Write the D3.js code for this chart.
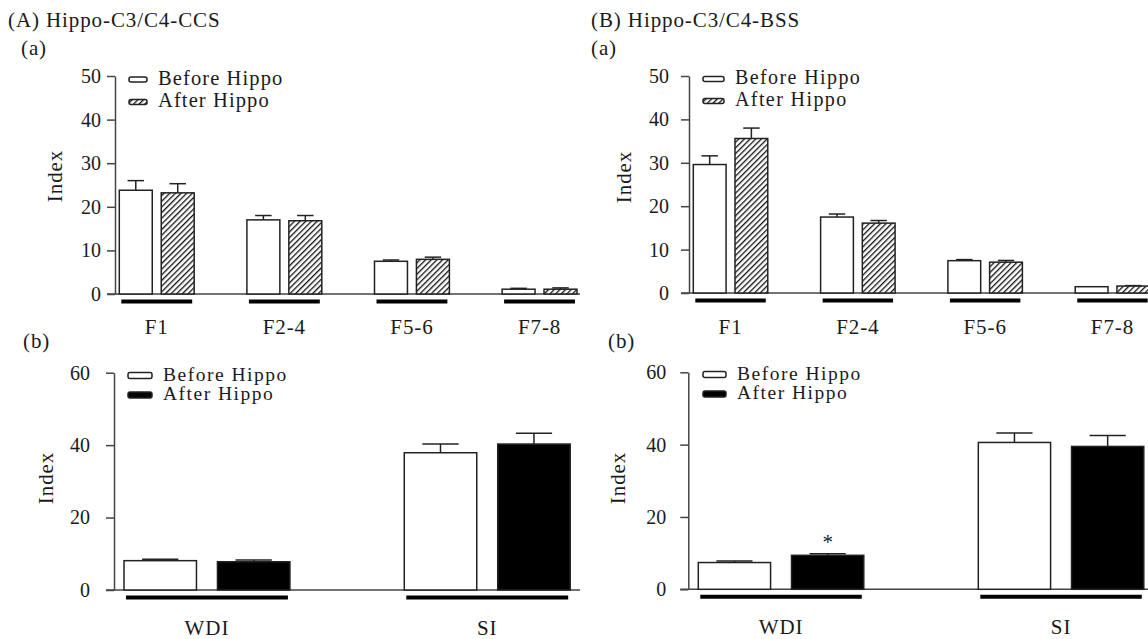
<!DOCTYPE html>
<html>
<head>
<meta charset="utf-8">
<script src="https://cdn.jsdelivr.net/npm/d3@7"></script>
<style>
  body { margin: 0; background: #fff; }
  text { font-family: "Liberation Serif", "Times New Roman", serif; fill: #1a1a1a; }
</style>
</head>
<body>
<div id="chart"></div>
<script>
//data
var fracCats = ["F1", "F2-4", "F5-6", "F7-8"];
var idxCats = ["WDI", "SI"];
var groups = ["before", "after"];
var legendLabels = ["Before Hippo", "After Hippo"];

var fracTicks = [0, 10, 20, 30, 40, 50];
var idxTicks = [0, 20, 40, 60];

//(A) CCS, fractions
var ccsFracBefore = [23.8, 17.0, 7.5, 1.1];
var ccsFracBeforeErr = [2.2, 1.0, 0.3, 0.2];
var ccsFracAfter = [23.2, 16.8, 7.95, 1.1];
var ccsFracAfterErr = [2.1, 1.2, 0.5, 0.3];

//(B) BSS, fractions
var bssFracBefore = [29.6, 17.5, 7.45, 1.45];
var bssFracBeforeErr = [2.0, 0.7, 0.25, 0];
var bssFracAfter = [35.6, 16.1, 7.1, 1.6];
var bssFracAfterErr = [2.4, 0.6, 0.4, 0.1];

//(A) CCS, indices
var ccsIdxBefore = [8.1, 37.9];
var ccsIdxBeforeErr = [0.4, 2.4];
var ccsIdxAfter = [7.8, 40.3];
var ccsIdxAfterErr = [0.5, 3.0];

//(B) BSS, indices
var bssIdxBefore = [7.4, 40.6];
var bssIdxBeforeErr = [0.45, 2.6];
var bssIdxAfter = [9.4, 39.5];
var bssIdxAfterErr = [0.45, 3.0];
var bssIdxStarsAfter = ["*", ""];

var width = 1148, height = 639;
var fontSize = 21, spacing = "0.9px";

var svg = d3.select("#chart")
    .append("svg")
    .attr("width", width)
    .attr("height", height);

//hatch pattern for the "after" bars in the (a) charts
var defs = svg.append("defs");
var pat = defs.append("pattern")
    .attr("id", "hatch")
    .attr("patternUnits", "userSpaceOnUse")
    .attr("width", 4)
    .attr("height", 4)
    .attr("patternTransform", "rotate(45)");
pat.append("rect").attr("width", 4).attr("height", 4).attr("fill", "#fff");
pat.append("line")
    .attr("x1", 0).attr("y1", 0).attr("x2", 0).attr("y2", 4)
    .attr("stroke", "#111").attr("stroke-width", 2.6);

//titles
function label(x, y, txt) {
    return svg.append("text")
        .attr("x", x)
        .attr("y", y)
        .attr("font-size", fontSize)
        .attr("letter-spacing", spacing)
        .text(txt);
}
label(8, 27, "(A) Hippo-C3/C4-CCS");
label(591, 27, "(B) Hippo-C3/C4-BSS");
label(21, 55, "(a)");
label(591, 55, "(a)");
label(23, 348, "(b)");
label(608, 348, "(b)");

var panels = [
    {cats: fracCats, before: ccsFracBefore, beforeErr: ccsFracBeforeErr, after: ccsFracAfter, afterErr: ccsFracAfterErr,
     max: 50, ticks: fracTicks, axisX: 115, yTop: 76, yBase: 294, xRange: [119.3, 577], xEnd: 580,
     pad: 0.413, innerPad: 0.214, tickPad: 6, afterFill: "url(#hatch)", labelPad: 25,
     indexX: 62, indexY: 176, legX: 129, legY: 79.5, legGap: 22.5, legFont: 20.5, legSpacing: "1.1px", swW: 18, swH: 5},
    {cats: fracCats, before: bssFracBefore, beforeErr: bssFracBeforeErr, after: bssFracAfter, afterErr: bssFracAfterErr,
     max: 50, ticks: fracTicks, axisX: 689, yTop: 76, yBase: 293, xRange: [693.3, 1149.7], xEnd: 1148,
     pad: 0.415, innerPad: 0.214, tickPad: 12, afterFill: "url(#hatch)", labelPad: 26,
     indexX: 631, indexY: 177, legX: 703, legY: 79, legGap: 22, legFont: 20, legSpacing: "1.4px", swW: 21, swH: 5},
    {cats: idxCats, before: ccsIdxBefore, beforeErr: ccsIdxBeforeErr, after: ccsIdxAfter, afterErr: ccsIdxAfterErr,
     max: 60, ticks: idxTicks, axisX: 114, yTop: 372.7, yBase: 590, xRange: [124, 570.2], xEnd: 580,
     pad: 0.408, innerPad: 0.2246, tickPad: 16, afterFill: "#000", labelPad: 30,
     indexX: 53, indexY: 478, legX: 128, legY: 375.5, legGap: 19.5, legFont: 19.5, legSpacing: "1.5px", swW: 24, swH: 6},
    {cats: idxCats, before: bssIdxBefore, beforeErr: bssIdxBeforeErr, after: bssIdxAfter, afterErr: bssIdxAfterErr,
     max: 60, ticks: idxTicks, axisX: 688.3, yTop: 372.3, yBase: 589.3, xRange: [698.3, 1143.8], xEnd: 1148,
     pad: 0.409, innerPad: 0.2246, tickPad: 14, afterFill: "#000", labelPad: 30,
     indexX: 625, indexY: 478, legX: 703, legY: 374.5, legGap: 19.5, legFont: 19.5, legSpacing: "1.5px", swW: 23, swH: 6,
     stars: bssIdxStarsAfter}
];

panels.forEach(drawPanel);

function drawPanel(p) {
    var g = svg.append("g");

    var y = d3.scaleLinear().domain([0, p.max]).range([p.yBase, p.yTop]);
    var x = d3.scaleBand().domain(p.cats).range(p.xRange).paddingInner(p.pad).paddingOuter(0);
    var xs = d3.scaleBand().domain(groups).range([0, x.bandwidth()]).paddingInner(p.innerPad);

    var rows = p.cats.map(function (c, i) {
        return [
            {cat: c, key: "before", value: p.before[i], err: p.beforeErr[i], star: ""},
            {cat: c, key: "after", value: p.after[i], err: p.afterErr[i], star: p.stars ? p.stars[i] : ""}
        ];
    });
    var flat = d3.merge(rows);

    //x baseline, runs past the bars on both sides
    g.append("line")
        .attr("x1", p.axisX - 8)
        .attr("x2", p.xEnd)
        .attr("y1", y(0))
        .attr("y2", y(0))
        .attr("stroke", "#444")
        .attr("stroke-width", 1.5);

    //y axis
    var yAxis = g.append("g")
        .attr("transform", "translate(" + p.axisX + ",0)")
        .call(d3.axisLeft(y).tickValues(p.ticks).tickSize(8).tickSizeOuter(0).tickPadding(p.tickPad));
    yAxis.select(".domain").attr("stroke", "#444").attr("stroke-width", 1.5);
    yAxis.selectAll(".tick line").attr("stroke", "#444").attr("stroke-width", 1.5);
    yAxis.selectAll("text")
        .attr("font-size", 20)
        .attr("font-family", "Liberation Serif, serif")
        .attr("fill", "#1a1a1a");

    //category labels
    var xAxis = g.append("g")
        .attr("transform", "translate(0," + y(0) + ")")
        .call(d3.axisBottom(x).tickSize(0).tickPadding(p.labelPad));
    xAxis.select(".domain").remove();
    xAxis.selectAll("text")
        .attr("font-size", fontSize)
        .attr("font-family", "Liberation Serif, serif")
        .attr("letter-spacing", spacing)
        .attr("fill", "#1a1a1a");

    //thick bar under each group
    g.selectAll(".under")
        .data(p.cats)
        .enter()
        .append("line")
        .attr("x1", function (d) { return x(d) + 2; })
        .attr("x2", function (d) { return x(d) + x.bandwidth() - 2; })
        .attr("y1", y(0) + 7.5)
        .attr("y2", y(0) + 7.5)
        .attr("stroke", "#000")
        .attr("stroke-width", 4);

    //error bars (drawn first so the bar outline sits on top)
    var eb = g.selectAll(".err")
        .data(flat.filter(function (d) { return d.err > 0; }))
        .enter()
        .append("g")
        .attr("stroke", "#222")
        .attr("stroke-width", 1.5);
    eb.append("line")
        .attr("x1", function (d) { return x(d.cat) + xs(d.key) + xs.bandwidth() / 2; })
        .attr("x2", function (d) { return x(d.cat) + xs(d.key) + xs.bandwidth() / 2; })
        .attr("y1", function (d) { return y(d.value); })
        .attr("y2", function (d) { return y(d.value + d.err); });
    eb.append("line")
        .attr("x1", function (d) { return x(d.cat) + xs(d.key) + xs.bandwidth() / 4; })
        .attr("x2", function (d) { return x(d.cat) + xs(d.key) + xs.bandwidth() * 3 / 4; })
        .attr("y1", function (d) { return y(d.value + d.err); })
        .attr("y2", function (d) { return y(d.value + d.err); });

    //bars
    g.selectAll(".bar")
        .data(flat)
        .enter()
        .append("rect")
        .attr("x", function (d) { return x(d.cat) + xs(d.key); })
        .attr("y", function (d) { return y(d.value); })
        .attr("width", xs.bandwidth())
        .attr("height", function (d) { return y(0) - y(d.value); })
        .attr("fill", function (d) { return d.key == "before" ? "#fff" : p.afterFill; })
        .attr("stroke", "#222")
        .attr("stroke-width", 1.5);

    //significance marks
    g.selectAll(".star")
        .data(flat.filter(function (d) { return d.star; }))
        .enter()
        .append("text")
        .attr("x", function (d) { return x(d.cat) + xs(d.key) + xs.bandwidth() / 2; })
        .attr("y", function (d) { return y(d.value + d.err) - 5; })
        .attr("font-size", fontSize)
        .style("text-anchor", "middle")
        .text(function (d) { return d.star; });

    //y title
    g.append("text")
        .attr("transform", "translate(" + p.indexX + "," + p.indexY + ") rotate(-90)")
        .attr("font-size", fontSize)
        .attr("letter-spacing", spacing)
        .style("text-anchor", "middle")
        .text("Index");

    //legend
    var leg = g.selectAll(".leg")
        .data(groups)
        .enter()
        .append("g")
        .attr("transform", function (d, i) { return "translate(" + p.legX + "," + (p.legY + i * p.legGap) + ")"; });
    leg.append("rect")
        .attr("x", 0)
        .attr("y", -p.swH / 2)
        .attr("width", p.swW)
        .attr("height", p.swH)
        .attr("rx", 2)
        .attr("fill", function (d) { return d == "before" ? "#fff" : p.afterFill; })
        .attr("stroke", "#222")
        .attr("stroke-width", 1.5);
    leg.append("text")
        .attr("x", p.swW + 11)
        .attr("y", 5)
        .attr("font-size", p.legFont)
        .attr("letter-spacing", p.legSpacing)
        .text(function (d, i) { return legendLabels[i]; });
}
</script>
</body>
</html>
